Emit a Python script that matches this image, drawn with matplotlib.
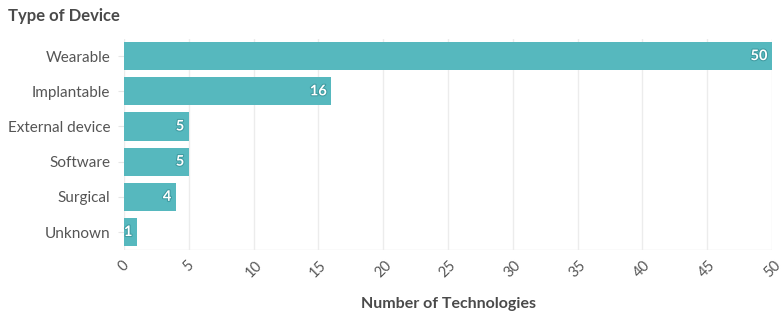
import matplotlib
matplotlib.use('Agg')
import matplotlib.pyplot as plt
import matplotlib.patheffects as pe

plt.rcParams['font.family'] = ['Lato', 'DejaVu Sans']

categories = ['Wearable', 'Implantable', 'External device', 'Software', 'Surgical', 'Unknown']
counts = [50, 16, 5, 5, 4, 1]
xticks = list(range(0, 51, 5))

BAR = '#56b8be'
TXT = '#555555'

fig = plt.figure(figsize=(7.83, 3.21), dpi=100)
ax = fig.add_axes([0.1584, 0.2224, 0.8276, 0.6576])

ypos = list(range(len(categories)))
ax.barh(ypos, counts, height=0.8, color=BAR, zorder=2)
ax.set_ylim(len(categories) - 0.5, -0.5)
ax.set_xlim(0, 50)
ax.set_yticks(ypos)
ax.set_yticklabels(categories, fontsize=11, color=TXT)
ax.set_xticks(xticks)
ax.set_xticklabels([str(t) for t in xticks], rotation=45, ha='center', va='top',
                   fontsize=10.5, color=TXT)
ax.tick_params(axis='y', length=4, color='#e6e6e6', pad=6)
ax.tick_params(axis='x', length=0, pad=6)
ax.grid(axis='x', color='#ececec', linewidth=1, zorder=0)
for s in ax.spines.values():
    s.set_visible(False)
ax.axhline(len(categories) - 0.5, color='#e6e6e6', linewidth=1, zorder=1)

for y, v in zip(ypos, counts):
    t = ax.text(v - 0.35, y, str(v), ha='right', va='center', color='white',
                fontsize=10.5, fontweight='bold', zorder=3)
    t.set_path_effects([pe.withStroke(linewidth=1.5, foreground='#3e9aa0')])

ax.set_xlabel('Number of Technologies', fontsize=11.5, fontweight='bold',
              color='#4a4a4a', labelpad=12)
fig.text(0.010, 0.95, 'Type of Device', fontsize=12, fontweight='bold',
         color='#4a4a4a', ha='left', va='center')

fig.savefig('out.png', dpi=100, facecolor='white')
